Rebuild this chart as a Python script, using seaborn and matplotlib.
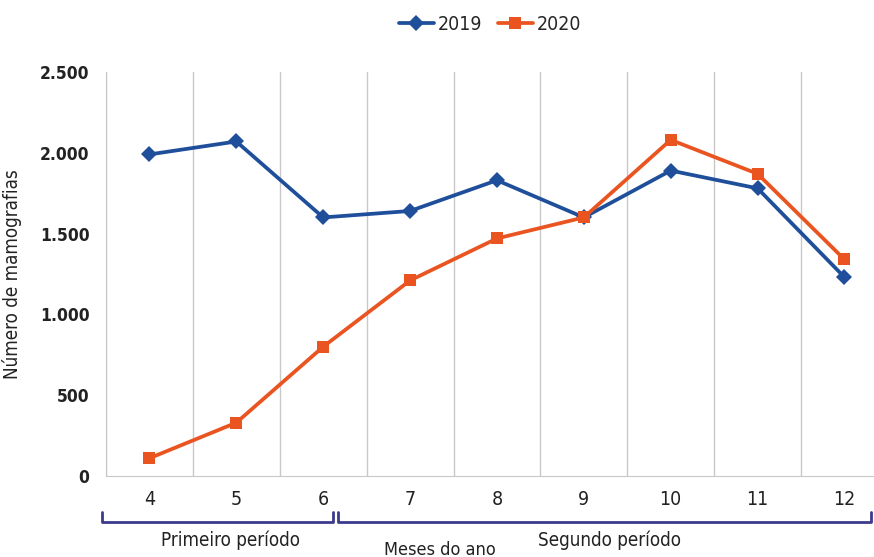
import pandas as pd
import seaborn as sns
import matplotlib.pyplot as plt
import matplotlib.transforms as mtransforms

# data
meses = [4, 5, 6, 7, 8, 9, 10, 11, 12]
mamo_2019 = [1990, 2070, 1600, 1640, 1830, 1600, 1890, 1780, 1230]
mamo_2020 = [110, 330, 800, 1210, 1470, 1600, 2080, 1870, 1340]
y_ticks = [0, 500, 1000, 1500, 2000, 2500]
y_labels = ["0", "500", "1.000", "1.500", "2.000", "2.500"]

df = pd.DataFrame({
    "mes": meses * 2,
    "valor": mamo_2019 + mamo_2020,
    "ano": ["2019"] * len(meses) + ["2020"] * len(meses),
})

sns.set_style("white")
plt.rcParams["font.family"] = ["DejaVu Sans"]
plt.rcParams["font.stretch"] = "condensed"

fig = plt.figure(figsize=(8.74, 5.57), dpi=100)
ax = fig.add_axes([106 / 874, 1 - 476 / 557, 768 / 874, 404 / 557])

cores = {"2019": "#1f4f9a", "2020": "#ea5420"}
sns.lineplot(data=df, x="mes", y="valor", hue="ano", style="ano",
             markers={"2019": "D", "2020": "s"}, dashes=False,
             palette=cores, linewidth=2.7, markersize=8,
             markeredgewidth=0, ax=ax)

ax.set_xlim(3.5, 12.34)
ax.set_ylim(0, 2500)
for xv in [m - 0.5 for m in meses]:
    ax.axvline(xv, color="#c8c8c8", linewidth=1, zorder=0)

ax.set_xticks(meses)
ax.set_xticklabels([str(m) for m in meses], fontsize=14, color="#222222")
ax.set_yticks(y_ticks)
ax.set_yticklabels(y_labels, fontsize=12.5, color="#222222", fontweight="bold")
ax.tick_params(axis="both", length=0, pad=10)
ax.tick_params(axis="y", pad=12)
ax.set_xlabel("")
ax.set_ylabel("Número de mamografias", fontsize=13.5, color="#222222")
ax.yaxis.set_label_coords(-0.11, 0.5)

for s in ["top", "right"]:
    ax.spines[s].set_visible(False)
ax.spines["left"].set_color("#c8c8c8")
ax.spines["bottom"].set_color("#c8c8c8")

# period brackets under the axis
trans = mtransforms.blended_transform_factory(ax.transData, ax.transAxes)
cor_chave = "#3c3a8c"
for x0, x1 in [(3.45, 6.11), (6.17, 12.31)]:
    ax.plot([x0, x0, x1, x1], [-0.089, -0.114, -0.114, -0.089], color=cor_chave,
            linewidth=2, transform=trans, clip_on=False)
ax.text(4.93, -0.158, "Primeiro período", transform=trans, ha="center", va="center",
        fontsize=13.5, color="#222222")
ax.text(9.29, -0.158, "Segundo período", transform=trans, ha="center", va="center",
        fontsize=13.5, color="#222222")
ax.text(7.34, -0.182, "Meses do ano", transform=trans, ha="center", va="center",
        fontsize=13, color="#222222")

leg = ax.legend(loc="center", bbox_to_anchor=(490 / 874, 1 - 24 / 557),
                bbox_transform=fig.transFigure, ncol=2, frameon=False,
                fontsize=14, handlelength=1.8, columnspacing=0.8, handletextpad=0.2)

fig.savefig("out.png", dpi=100)
